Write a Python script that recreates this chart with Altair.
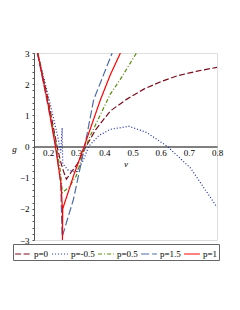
import altair as alt
import pandas as pd

series_names = ["p=0", "p=-0.5", "p=0.5", "p=1.5", "p=1"]
colors = ["#7b0c1c", "#1c2aa8", "#5a8c10", "#4a6aa8", "#ff0000"]
dashes = [[6, 2.5], [1, 2], [4, 2, 1, 2], [8, 3], [1, 0]]

v_p0 = [0.163, 0.20, 0.232, 0.245, 0.255, 0.265, 0.28, 0.305, 0.325, 0.37, 0.421, 0.48, 0.54, 0.60, 0.66, 0.73, 0.80]
g_p0 = [3.0, 1.5, 0.0, -0.5, -0.8, -1.05, -0.85, -0.55, -0.15, 0.55, 1.14, 1.52, 1.84, 2.08, 2.27, 2.42, 2.54]

v_pm05 = [0.163, 0.20, 0.235, 0.245, 0.25, 0.252, 0.27, 0.30, 0.325, 0.344, 0.38, 0.421, 0.487, 0.55, 0.624, 0.707, 0.80]
g_pm05 = [3.0, 1.65, 0.3, -0.2, 0.6, -0.55, -0.75, -0.82, -0.45, 0.0, 0.35, 0.55, 0.65, 0.45, 0.0, -0.7, -1.95]

v_p05 = [0.163, 0.20, 0.23, 0.243, 0.251, 0.275, 0.30, 0.325, 0.35, 0.421, 0.457, 0.514]
g_p05 = [3.0, 1.4, 0.0, -0.75, -1.48, -1.3, -0.95, -0.2, 0.35, 1.68, 2.16, 3.0]

v_p15 = [0.162, 0.20, 0.228, 0.245, 0.25, 0.255, 0.29, 0.33, 0.362, 0.4275]
g_p15 = [3.0, 1.3, 0.0, -1.2, -2.9, -2.75, -1.7, 0.0, 1.5, 3.0]

v_p1 = [0.163, 0.20, 0.226, 0.246, 0.251, 0.251, 0.252, 0.29, 0.328, 0.386, 0.421, 0.457]
g_p1 = [3.0, 1.35, 0.0, -1.2, -2.0, -3.0, -2.0, -0.95, 0.0, 1.5, 2.3, 3.0]

all_v = [v_p0, v_pm05, v_p05, v_p15, v_p1]
all_g = [g_p0, g_pm05, g_p05, g_p15, g_p1]

rows = []
for name, vs, gs in zip(series_names, all_v, all_g):
    for i, (v, g) in enumerate(zip(vs, gs)):
        rows.append({"p": name, "v": v, "g": g, "idx": i})
df = pd.DataFrame(rows)

x_ticks = [0.2, 0.3, 0.4, 0.5, 0.6, 0.7, 0.8]
y_ticks = [round(-3 + 0.2 * k, 1) for k in range(31)]

font = "Liberation Serif"

legend_cfg = dict(title=None, orient="none", legendX=-21, legendY=191,
                  direction="horizontal", columns=5, gridAlign="none")

chart = alt.Chart(df).mark_line(strokeWidth=1.2, clip=True).encode(
    x=alt.X("v:Q", scale=alt.Scale(domain=[0.15, 0.8], nice=False, zero=False),
            axis=alt.Axis(values=x_ticks, offset=-93.5, ticks=False, grid=False,
                          domainColor="#000", domainWidth=1, labelFont=font, labelFontSize=9,
                          labelColor="#000", labelPadding=2, title="v", titleFont=font,
                          titleFontStyle="italic", titleFontWeight="normal", titleFontSize=9,
                          titlePadding=2, titleColor="#000", labelFlush=False)),
    y=alt.Y("g:Q", scale=alt.Scale(domain=[-3, 3], nice=False),
            axis=alt.Axis(values=y_ticks, grid=False, tickSize=2, tickColor="#555",
                          domainColor="#555", labelFont=font, labelFontSize=9, labelColor="#000",
                          labelOverlap=False, labelPadding=3,
                          labelExpr="abs(datum.value - round(datum.value)) < 0.01 ? format(round(datum.value), 'd') : ''",
                          title="g", titleAngle=0, titleFont=font, titleFontStyle="italic",
                          titleFontWeight="normal", titleFontSize=9, titleColor="#000",
                          titleX=-20, titleY=95, titleAlign="center", titleBaseline="middle")),
    color=alt.Color("p:N", scale=alt.Scale(domain=series_names, range=colors),
                    legend=alt.Legend(symbolType="stroke",
                                      symbolSize=250, symbolStrokeWidth=1.2, labelFont=font,
                                      labelFontSize=9, labelColor="#000", strokeColor="#666",
                                      padding=1, columnPadding=0, labelOffset=2, **legend_cfg)),
    strokeDash=alt.StrokeDash("p:N", scale=alt.Scale(domain=series_names, range=dashes),
                              legend=alt.Legend(**legend_cfg)),
    detail="p:N",
    order="idx:Q",
).properties(
    width=183, height=187,
    padding={"left": 26, "top": 45, "right": 7, "bottom": 62},
    autosize=alt.AutoSizeParams(type="none"),
).configure_view(stroke=None).configure(background="white")

chart.save("out.html", embed_options={"renderer": "svg", "actions": False})
